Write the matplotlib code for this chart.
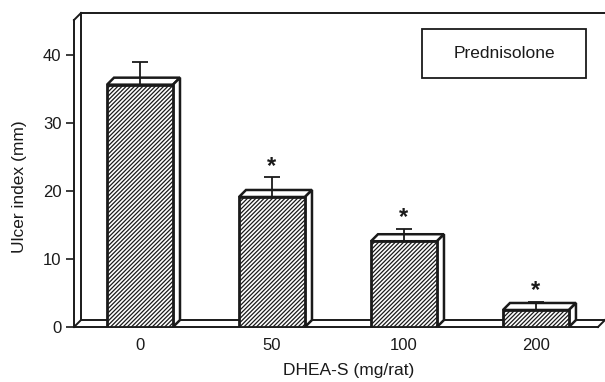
import numpy as np
import matplotlib.pyplot as plt
from matplotlib.patches import Polygon, Rectangle

plt.rcParams['font.family'] = ['Liberation Sans', 'DejaVu Sans']
plt.rcParams['hatch.linewidth'] = 0.9

doses = ['0', '50', '100', '200']
ulcer = [35.6, 19.1, 12.6, 2.5]
sem = [3.4, 2.9, 1.8, 1.2]
signif = [False, True, True, True]
yticks = [0, 10, 20, 30, 40]

ink = '#1a1a1a'
W, H = 605, 382
fig = plt.figure(figsize=(W / 100, H / 100), dpi=100)
# axes placed in pixel terms: front y axis at x=74, floor at y=327
ax = fig.add_axes([74 / W, (H - 327) / H, (598 - 74) / W, (327 - 20) / H])
x = np.arange(len(doses))
ax.set_xlim(-0.5, 3.47)
ax.set_ylim(0, 45.1)

fig.canvas.draw()
inv = ax.transData.inverted()
p0 = ax.transData.transform((0, 0))
dx, dy = inv.transform(p0 + np.array([7, 7])) - inv.transform(p0)

xl, xr = ax.get_xlim()
yt = ax.get_ylim()[1]

# floor and back wall
kw = dict(color=ink, lw=1.4, clip_on=False, zorder=1)
ax.plot([xl, xr], [0, 0], **kw)
ax.plot([xl + dx, xr + dx], [dy, dy], **kw)
ax.plot([xr, xr + dx], [0, dy], **kw)
ax.plot([xl, xl + dx], [0, dy], **kw)
ax.plot([xl + dx, xl + dx], [dy, yt + dy], **kw)
ax.plot([xl, xl + dx], [yt, yt + dy], **kw)
ax.plot([xl + dx, xr + 3 * dx], [yt + dy, yt + dy], **kw)

w = 0.5
bars = ax.bar(x, ulcer, width=w, facecolor='white', edgecolor=ink,
              hatch='////////', lw=2.0, zorder=3)
for xi, v in zip(x, ulcer):
    x0, x1 = xi - w / 2, xi + w / 2
    top = Polygon([(x0, v), (x0 + dx, v + dy), (x1 + dx, v + dy), (x1, v)],
                  closed=True, facecolor='white', edgecolor=ink, lw=1.8,
                  zorder=2.5)
    side = Polygon([(x1, 0), (x1, v), (x1 + dx, v + dy), (x1 + dx, dy)],
                   closed=True, facecolor='white', edgecolor=ink, lw=1.8,
                   zorder=2.5)
    ax.add_patch(top)
    ax.add_patch(side)

ax.errorbar(x, ulcer, yerr=[np.zeros(len(sem)), sem], fmt='none',
            ecolor=ink, elinewidth=1.3, capsize=5.5, capthick=1.3, zorder=4)

for xi, v, e, s in zip(x, ulcer, sem, signif):
    if s:
        ax.annotate('*', (xi, v + e), xytext=(0, 11), textcoords='offset pixels',
                    ha='center', va='center', fontsize=17, fontweight='bold',
                    color=ink)

for sp in ['top', 'right', 'bottom']:
    ax.spines[sp].set_visible(False)
ax.spines['left'].set_linewidth(1.4)
ax.spines['left'].set_color(ink)

ax.set_yticks(yticks)
ax.set_xticks(x)
ax.set_xticklabels(doses)
ax.tick_params(axis='y', direction='out', length=6, width=1.2, pad=3,
               labelsize=12, colors=ink)
ax.tick_params(axis='x', length=0, pad=8, labelsize=12, colors=ink)

fig.text(20 / W, 1 - 187 / H, 'Ulcer index (mm)', rotation=90,
         ha='center', va='center', fontsize=12.5, color=ink)
fig.text(349 / W, 1 - 370 / H, 'DHEA-S (mg/rat)', ha='center', va='center',
         fontsize=12.5, color=ink)

fig.add_artist(Rectangle((422 / W, 1 - 78 / H), 164 / W, 49 / H,
                         transform=fig.transFigure, facecolor='white',
                         edgecolor=ink, lw=1.3))
fig.text(504 / W, 1 - 53.5 / H, 'Prednisolone', ha='center', va='center',
         fontsize=12.5, color=ink)

fig.savefig('out.png', dpi=100)
